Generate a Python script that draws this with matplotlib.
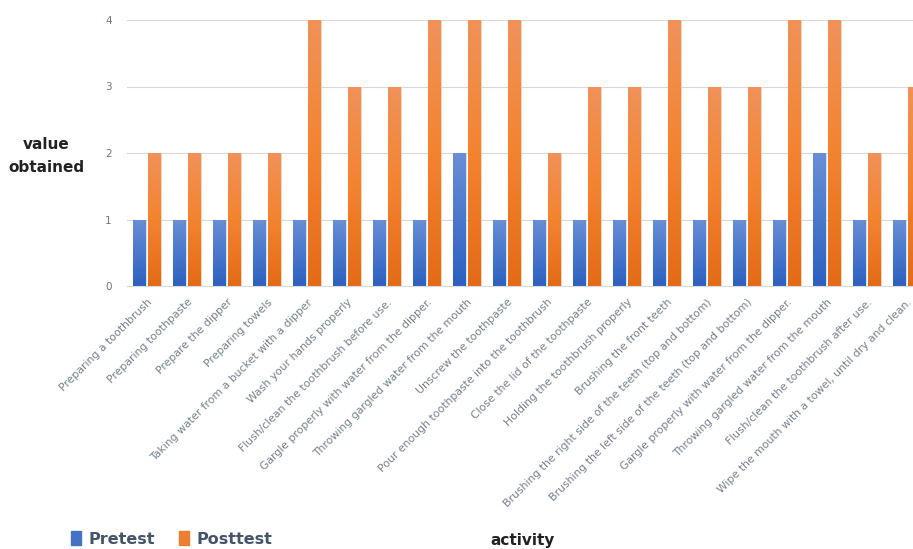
import matplotlib
matplotlib.use("Agg")
import matplotlib.pyplot as plt
import numpy as np
from matplotlib.colors import LinearSegmentedColormap
from matplotlib.patches import Patch

activities = [
    "Preparing a toothbrush",
    "Preparing toothpaste",
    "Prepare the dipper",
    "Preparing towels",
    "Taking water from a bucket with a dipper",
    "Wash your hands properly",
    "Flush/clean the toothbrush before use.",
    "Gargle properly with water from the dipper.",
    "Throwing gargled water from the mouth",
    "Unscrew the toothpaste",
    "Pour enough toothpaste into the toothbrush",
    "Close the lid of the toothpaste",
    "Holding the toothbrush properly",
    "Brushing the front teeth",
    "Brushing the right side of the teeth (top and bottom)",
    "Brushing the left side of the teeth (top and bottom)",
    "Gargle properly with water from the dipper.",
    "Throwing gargled water from the mouth",
    "Flush/clean the toothbrush after use.",
    "Wipe the mouth with a towel, until dry and clean.",
]
pretest = [1, 1, 1, 1, 1, 1, 1, 1, 2, 1, 1, 1, 1, 1, 1, 1, 1, 2, 1, 1]
posttest = [2, 2, 2, 2, 4, 3, 3, 4, 4, 4, 2, 3, 3, 4, 3, 3, 4, 4, 2, 3]

blue_cmap = LinearSegmentedColormap.from_list("b", ["#2c5fbf", "#4a78cc", "#6a8fd6"])
orange_cmap = LinearSegmentedColormap.from_list("o", ["#e46a17", "#f4832f", "#f0925a"])

fig = plt.figure(figsize=(9.13, 5.49), dpi=100)
# plot area runs past the right edge of the picture, like the reference
ax = fig.add_axes([127 / 913, 263 / 549, 800 / 913, 266 / 549])

x = np.arange(len(activities))
w = 0.32
gap = 0.05
bars_pre = ax.bar(x - w / 2 - gap / 2, pretest, w, color="#4472c4",
                  edgecolor="#dfe6f4", linewidth=0.6, zorder=2)
bars_post = ax.bar(x + w / 2 + gap / 2, posttest, w, color="#ed7d31",
                   edgecolor="#f8dcc8", linewidth=0.6, zorder=2)

grad = np.linspace(0, 1, 256).reshape(-1, 1)
for bars, cmap in [(bars_pre, blue_cmap), (bars_post, orange_cmap)]:
    for b in bars:
        x0, y0 = b.get_x(), b.get_y()
        im = ax.imshow(grad, cmap=cmap, aspect="auto", origin="lower",
                       extent=[x0, x0 + b.get_width(), y0, y0 + b.get_height()],
                       zorder=2.5)
        im.set_clip_path(b)

ax.set_xlim(-0.5, len(activities) - 0.5)
ax.set_ylim(0, 4)
ax.set_yticks([0, 1, 2, 3, 4])
ax.yaxis.grid(True, color="#d9d9d9", linewidth=0.8, zorder=0)
ax.set_axisbelow(True)
for s in ["top", "right", "left"]:
    ax.spines[s].set_visible(False)
ax.spines["bottom"].set_color("#d9d9d9")
ax.tick_params(axis="both", length=0, colors="#6e7682", labelsize=7.5)
ax.tick_params(axis="y", pad=11)
ax.tick_params(axis="x", pad=8)
ax.set_xticks(x)
ax.set_xticklabels(activities, rotation=45, ha="right", rotation_mode="anchor",
                   fontsize=7.8, color="#76808e")

fig.text(0.051, 0.716, "value\nobtained", ha="center", va="center",
         fontsize=11, fontweight="bold", color="#222222", linespacing=1.6)
fig.text(0.572, 0.016, "activity", ha="center", va="center",
         fontsize=11, fontweight="bold", color="#222222")

handles = [Patch(color="#4472c4", label="Pretest"),
           Patch(color="#ed7d31", label="Posttest")]
leg = fig.legend(handles=handles, loc="lower left", bbox_to_anchor=(0.062, -0.022),
                 ncol=2, frameon=False, handlelength=0.65, handleheight=0.95,
                 handletextpad=0.45, columnspacing=1.5,
                 prop={"size": 11.5, "weight": "bold"})
for t in leg.get_texts():
    t.set_color("#44546a")

fig.savefig("out.png", dpi=100)
